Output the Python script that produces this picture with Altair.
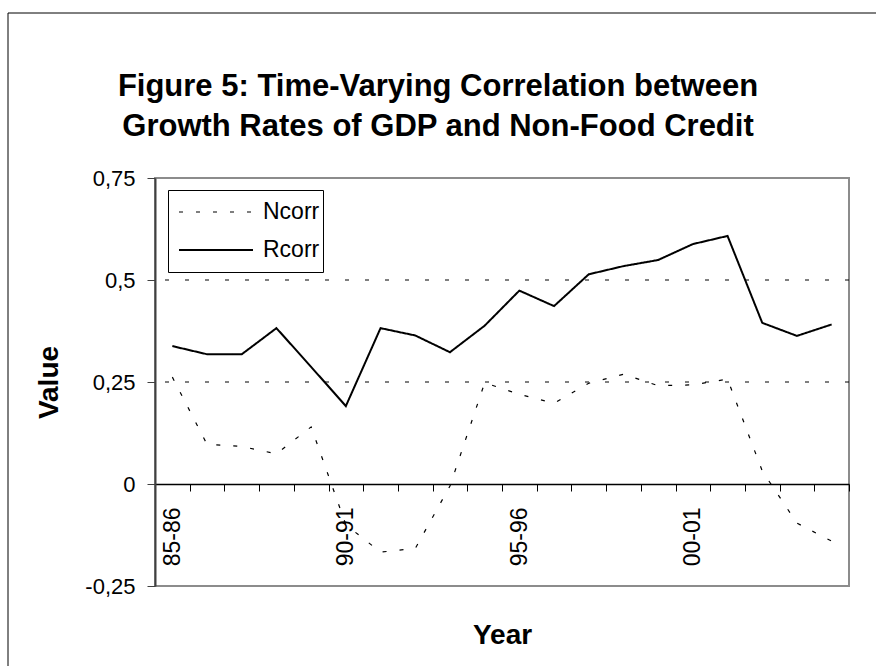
import altair as alt
import pandas as pd

years = ["85-86", "86-87", "87-88", "88-89", "89-90", "90-91", "91-92", "92-93", "93-94", "94-95",
         "95-96", "96-97", "97-98", "98-99", "99-00", "00-01", "01-02", "02-03", "03-04", "04-05"]
ncorr = [0.262, 0.097, 0.092, 0.074, 0.140, -0.100, -0.167, -0.158, -0.005, 0.248,
         0.220, 0.198, 0.247, 0.269, 0.241, 0.243, 0.257, 0.032, -0.096, -0.140]
rcorr = [0.338, 0.318, 0.318, 0.382, 0.287, 0.191, 0.382, 0.364, 0.323, 0.388,
         0.474, 0.436, 0.514, 0.534, 0.549, 0.588, 0.608, 0.395, 0.363, 0.391]
series_names = ["Ncorr", "Rcorr"]
shown_labels = ["85-86", "90-91", "95-96", "00-01"]
y_ticks = [-0.25, 0, 0.25, 0.5, 0.75]
grid_values = [0.25, 0.5]
title_lines = ["Figure 5: Time-Varying Correlation between",
               "Growth Rates of GDP and Non-Food Credit"]

df = pd.DataFrame({
    "year": years * 2,
    "value": ncorr + rcorr,
    "series": [series_names[0]] * len(years) + [series_names[1]] * len(years),
})
grid_df = pd.DataFrame({"value": grid_values})
one = pd.DataFrame({"k": [0]})

FONT = "Liberation Sans"
W, H = 694, 408

label_list = "[" + ",".join("'" + s + "'" for s in shown_labels) + "]"

x_enc = alt.X(
    "year:N", sort=years, bandPosition=0.5,
    scale=alt.Scale(type="band", paddingInner=0, paddingOuter=0, domain=years),
    axis=alt.Axis(
        title="Year", offset=-102, tickBand="extent", labelAngle=270,
        labelExpr=f"indexof({label_list}, datum.label) >= 0 ? datum.label : ''",
        labelFont=FONT, labelFontSize=23, labelColor="black", labelPadding=16,
        labelOverlap=False, labelBound=False, labelFlush=False,
        tickSize=7, tickColor="black", tickWidth=1,
        domainColor="black", domainWidth=1.5, grid=False,
        titleFont=FONT, titleFontSize=28, titleFontWeight="bold", titleColor="black",
        titleX=W / 2, titleY=159, titleBaseline="alphabetic", titleAlign="center",
    ),
)

y_scale = alt.Scale(domain=[-0.25, 0.75], nice=False, zero=False)
y_enc = alt.Y(
    "value:Q", scale=y_scale,
    axis=alt.Axis(
        title="Value", values=y_ticks,
        labelExpr="replace(toString(datum.value), '.', ',')",
        labelFont=FONT, labelFontSize=22, labelColor="black", labelPadding=12,
        tickSize=8, tickColor="#404040", tickWidth=1,
        domainColor="#404040", domainWidth=2, grid=False,
        titleFont=FONT, titleFontSize=28, titleFontWeight="bold", titleColor="black",
        titleAngle=270, titleX=-106, titleY=H / 2, titleBaseline="middle", titleAlign="center",
    ),
)

# outer chart frame: only its top and left edges fall inside the picture
frame_top = alt.Chart(one).mark_rule(stroke="black", strokeWidth=1).encode(
    x=alt.value(-147), x2=alt.value(W + 400), y=alt.value(-165)
)
frame_left = alt.Chart(one).mark_rule(stroke="black", strokeWidth=1).encode(
    x=alt.value(-147), y=alt.value(-165), y2=alt.value(H + 400)
)

title = alt.Chart(one).mark_text(
    font=FONT, fontSize=31, fontWeight="bold", color="black",
    align="center", baseline="alphabetic", lineHeight=40,
).encode(text=alt.value(title_lines), x=alt.value(438 - 155), y=alt.value(96 - 178))

grid = alt.Chart(grid_df).mark_rule(stroke="black", strokeWidth=1, strokeDash=[4, 16]).encode(
    y=alt.Y("value:Q", scale=y_scale)
)

lines = alt.Chart(df).mark_line(color="black").encode(
    x=x_enc,
    y=y_enc,
    strokeDash=alt.StrokeDash(
        "series:N",
        scale=alt.Scale(domain=series_names, range=[[4, 13], [1, 0]]),
        legend=alt.Legend(
            title=None, orient="none", legendX=13, legendY=12,
            strokeColor="black", fillColor="white", padding=3,
            symbolType="stroke", symbolSize=74 * 74, symbolStrokeColor="black",
            symbolStrokeWidth=1.5, symbolOffset=7, clipHeight=38, rowPadding=0,
            labelFont=FONT, labelFontSize=23, labelColor="black", labelOffset=9,
        ),
    ),
    strokeWidth=alt.StrokeWidth(
        "series:N", scale=alt.Scale(domain=series_names, range=[1.2, 2]), legend=None
    ),
)

chart = alt.layer(frame_top, frame_left, title, grid, lines).properties(
    width=W, height=H,
    autosize=alt.AutoSizeParams(type="none"),
    padding={"left": 155, "top": 178, "right": 27, "bottom": 80},
    background="white",
).configure_view(stroke="#8c8c8c", strokeWidth=2)

chart.save("out.html", embed_options={"renderer": "svg", "actions": False})
